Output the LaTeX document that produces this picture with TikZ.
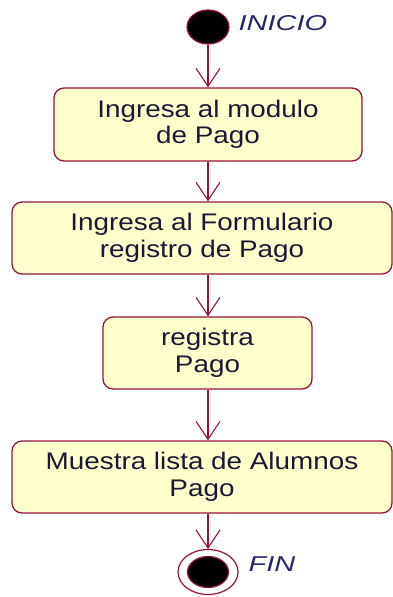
\documentclass[tikz,border=0pt]{standalone}
\usepackage{fontspec}
\setmainfont{Liberation Sans}[FakeStretch=1.16]
\newfontfamily\lblfont{Liberation Sans}[FakeStretch=1.35]
\usetikzlibrary{arrows.meta,shapes.geometric}
\definecolor{umlline}{RGB}{150,20,60}
\definecolor{umlfill}{RGB}{255,255,204}
\definecolor{umltext}{RGB}{40,40,110}
\definecolor{boxtext}{RGB}{25,25,55}
\tikzset{
  actbox/.style={draw=umlline, fill=umlfill, line width=1.3pt, rounded corners=10pt,
    align=center, font=\fontsize{24}{26.5}\selectfont, text=boxtext, inner sep=0pt},
  flow/.style={draw=umlline, line width=1.3pt, -{Straight Barb[length=18pt,width=24pt,line width=1.1pt]}},
  statelabel/.style={font=\lblfont\fontsize{21.5}{24}\selectfont\itshape, text=umltext, anchor=west},
}
\begin{document}
\begin{tikzpicture}[x=1pt,y=-1pt]
\useasboundingbox (0,0) rectangle (393,597);
\node[draw=umlline, fill=black, line width=1.2pt, ellipse, minimum width=42pt, minimum height=34pt, inner sep=0pt] (start) at (208,27) {};
\node[statelabel] (inicio) at (235,23) {INICIO};
\node[actbox, minimum width=308pt, minimum height=73pt] (b1) at (208,124.5) {Ingresa al modulo\\de Pago};
\node[actbox, minimum width=380pt, minimum height=72pt] (b2) at (202,238) {Ingresa al Formulario\\registro de Pago};
\node[actbox, minimum width=209pt, minimum height=72pt] (b3) at (207.5,353) {registra\\Pago};
\node[actbox, minimum width=380pt, minimum height=72pt] (b4) at (202,477) {Muestra lista de Alumnos\\Pago};
\node[draw=umlline, fill=white, line width=1.2pt, ellipse, minimum width=60pt, minimum height=45pt, inner sep=0pt] (endo) at (208,572) {};
\node[draw=umlline, fill=black, line width=1.2pt, ellipse, minimum width=41pt, minimum height=31pt, inner sep=0pt] (endi) at (208,572) {};
\node[statelabel] (fin) at (245,564) {FIN};
\draw[flow] (start.south) -- (b1.north -| start.south);
\draw[flow] (b1.south -| start.south) -- (b2.north -| start.south);
\draw[flow] (b2.south -| start.south) -- (b3.north -| start.south);
\draw[flow] (b3.south -| start.south) -- (b4.north -| start.south);
\draw[flow] (b4.south -| start.south) -- (endo.north);
\end{tikzpicture}
\end{document}
